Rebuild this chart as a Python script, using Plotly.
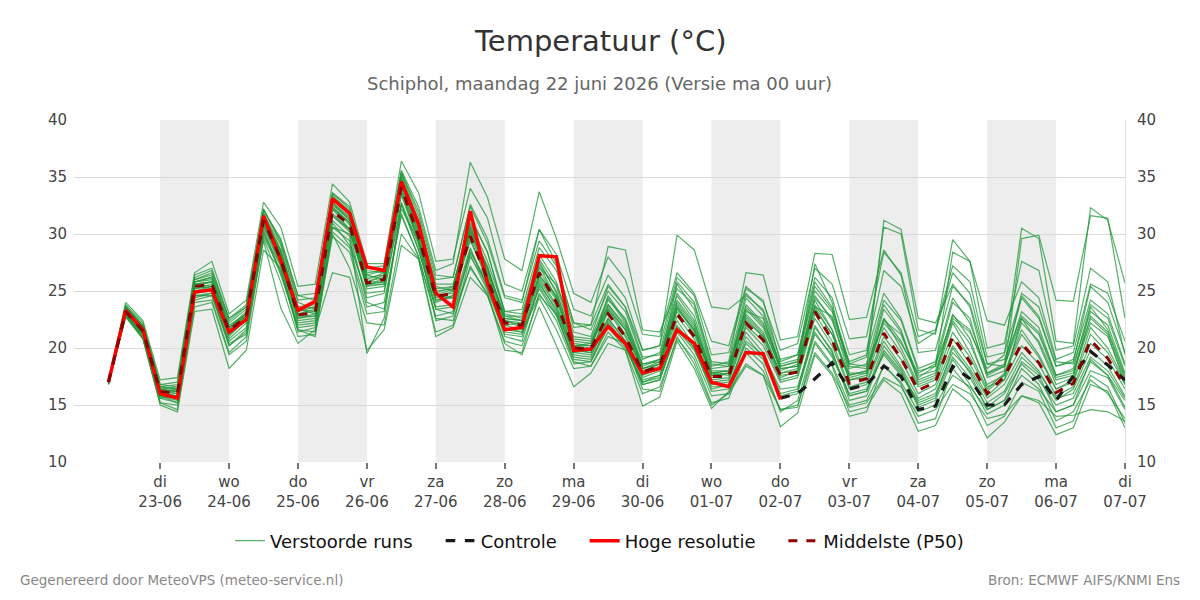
import plotly.graph_objects as go
import pandas as pd

# ---- time axis: 6-hourly steps from 22-06 06:00 UTC ----
times = pd.date_range("2026-06-22 06:00", periods=60, freq="6h")

tick_dates = pd.date_range("2026-06-23", "2026-07-07", freq="D")
tick_days = ["di", "wo", "do", "vr", "za", "zo", "ma", "di", "wo", "do", "vr", "za", "zo", "ma", "di"]
shaded_days = ["2026-06-23", "2026-06-25", "2026-06-27", "2026-06-29", "2026-07-01", "2026-07-03", "2026-07-05"]

# ---- perturbed ensemble members (°C) ----
m01 = [17.0, 23.5, 21.8, 16.4, 16.2, 25.8, 26.0, 21.8, 23.2, 31.6, 28.4, 23.4, 23.6, 32.8, 31.5, 26.2, 26.4, 34.8, 30.6, 25.0, 25.2, 30.8, 27.0, 22.6, 22.4, 27.4, 25.0, 20.4, 20.2, 23.8, 21.8, 18.2, 18.8, 24.0, 22.0, 17.8, 17.6, 23.0, 21.4, 17.8, 18.2, 24.2, 21.6, 17.2, 17.6, 22.6, 20.0, 16.8, 17.4, 22.2, 19.6, 16.4, 17.8, 21.6, 19.4, 16.4, 17.2, 21.8, 20.0, 17.0]
m02 = [16.9, 22.9, 21.0, 15.6, 15.2, 24.6, 24.8, 20.2, 21.6, 30.4, 26.6, 21.8, 22.0, 30.6, 29.4, 24.4, 24.8, 32.6, 28.6, 23.4, 23.6, 28.2, 25.0, 21.2, 21.0, 25.2, 22.8, 19.0, 18.8, 21.8, 20.0, 17.0, 17.4, 21.6, 19.8, 16.6, 16.6, 20.6, 19.4, 16.4, 16.6, 21.4, 19.2, 15.8, 16.2, 19.6, 17.8, 15.2, 15.8, 19.2, 17.4, 14.8, 16.0, 18.6, 17.2, 15.0, 15.6, 18.8, 17.6, 15.4]
m03 = [17.1, 23.8, 22.2, 16.8, 16.6, 26.2, 26.8, 22.4, 23.6, 32.2, 29.2, 24.2, 24.4, 33.6, 32.2, 27.0, 27.2, 35.6, 32.4, 26.8, 27.4, 36.3, 33.2, 27.8, 26.8, 33.7, 29.6, 24.8, 24.0, 28.0, 26.0, 21.2, 21.0, 26.6, 24.8, 20.6, 20.2, 25.4, 24.0, 19.8, 20.4, 27.0, 25.6, 20.8, 21.0, 28.4, 26.6, 21.0, 21.6, 27.2, 25.8, 19.2, 19.6, 24.6, 22.8, 18.4, 18.8, 25.4, 24.0, 19.6]
m04 = [17.0, 23.4, 21.6, 16.0, 15.8, 25.2, 25.4, 21.2, 22.4, 30.8, 27.4, 22.6, 22.8, 31.6, 30.2, 25.4, 25.6, 33.6, 29.4, 24.2, 24.4, 30.2, 27.2, 22.4, 22.2, 27.0, 25.6, 21.4, 21.0, 25.4, 23.6, 19.8, 20.2, 29.9, 28.6, 23.6, 23.4, 24.6, 23.4, 19.0, 19.4, 26.2, 24.4, 19.4, 19.8, 26.8, 25.4, 20.4, 21.4, 26.6, 24.8, 18.6, 18.4, 24.8, 23.6, 18.8, 18.6, 23.2, 22.0, 17.8]
m05 = [17.0, 23.6, 22.0, 16.6, 16.8, 26.0, 26.4, 22.0, 23.0, 31.8, 29.0, 24.0, 23.4, 33.2, 31.8, 26.4, 26.0, 35.2, 31.2, 25.4, 25.0, 31.4, 28.4, 23.2, 23.4, 28.8, 26.8, 21.8, 22.0, 28.9, 28.6, 21.6, 21.4, 25.2, 23.8, 18.6, 18.4, 23.8, 22.2, 18.6, 19.0, 25.0, 23.2, 18.4, 18.2, 31.2, 30.4, 22.6, 22.2, 25.6, 23.6, 17.8, 18.4, 23.2, 21.8, 17.6, 18.0, 22.6, 21.2, 16.8]
m06 = [16.8, 22.8, 20.8, 15.2, 14.6, 23.6, 24.0, 19.4, 20.6, 29.6, 25.8, 21.0, 21.2, 29.8, 28.4, 23.0, 23.2, 31.8, 28.0, 22.6, 22.4, 27.2, 24.6, 20.6, 20.2, 24.4, 21.6, 18.2, 18.4, 21.4, 19.8, 16.0, 16.6, 20.8, 19.0, 15.2, 15.6, 19.6, 18.0, 14.6, 14.8, 20.4, 18.4, 14.4, 14.8, 17.2, 16.0, 12.7, 13.2, 16.4, 15.2, 12.1, 13.5, 15.8, 15.2, 12.4, 13.0, 16.8, 16.2, 13.0]
m07 = [17.0, 23.0, 21.2, 15.8, 15.4, 24.2, 24.6, 20.2, 21.4, 29.4, 23.5, 20.4, 21.6, 26.6, 26.2, 19.8, 21.6, 29.0, 27.8, 21.4, 22.0, 28.0, 25.6, 21.0, 20.6, 25.6, 23.4, 19.4, 19.2, 22.6, 20.6, 17.2, 17.6, 22.4, 20.2, 16.8, 17.0, 21.4, 19.6, 16.0, 16.4, 22.0, 19.6, 15.8, 16.2, 20.2, 18.2, 15.0, 15.6, 20.0, 17.8, 14.6, 15.4, 18.8, 17.6, 14.4, 15.0, 18.0, 17.4, 14.6]
m08 = [17.0, 23.3, 21.6, 16.2, 16.4, 25.6, 25.8, 21.6, 23.0, 31.4, 28.0, 23.0, 23.4, 32.4, 31.0, 25.8, 26.4, 34.4, 30.0, 24.8, 25.4, 31.6, 28.4, 23.0, 22.6, 27.6, 24.8, 20.6, 20.4, 24.2, 22.6, 18.6, 19.0, 24.6, 22.4, 17.8, 18.0, 24.4, 22.8, 18.0, 18.6, 27.4, 24.0, 17.8, 17.8, 23.4, 21.4, 17.0, 17.6, 23.0, 20.8, 16.6, 17.2, 22.6, 20.4, 16.8, 17.4, 23.6, 21.6, 17.6]
m09 = [16.9, 23.0, 21.2, 15.6, 15.8, 24.8, 25.0, 20.8, 22.2, 30.6, 27.2, 22.2, 22.4, 31.2, 29.8, 19.5, 22.6, 32.6, 28.6, 23.4, 23.0, 27.0, 24.8, 19.8, 19.6, 24.8, 22.4, 18.6, 18.8, 22.2, 20.2, 16.8, 17.2, 21.8, 20.0, 16.2, 16.4, 21.0, 19.2, 15.8, 16.2, 21.2, 19.4, 16.0, 16.4, 19.4, 17.6, 15.4, 16.0, 19.6, 18.0, 15.2, 16.2, 19.2, 17.8, 15.6, 16.0, 19.2, 18.0, 15.6]
m10 = [17.0, 23.4, 21.8, 16.2, 16.0, 25.2, 25.6, 21.4, 22.6, 31.0, 27.6, 23.2, 23.6, 32.2, 30.4, 25.6, 25.8, 34.0, 29.6, 24.4, 25.0, 30.4, 26.4, 22.4, 21.8, 26.2, 23.8, 19.8, 19.6, 23.4, 21.2, 18.0, 18.4, 23.4, 21.6, 17.4, 17.8, 22.6, 21.0, 17.4, 18.0, 23.6, 21.2, 17.6, 18.0, 22.2, 20.4, 17.8, 18.6, 22.6, 21.4, 18.2, 19.4, 30.5, 29.6, 20.6, 20.4, 32.3, 31.2, 25.7]
m11 = [17.0, 23.6, 21.9, 16.6, 16.4, 25.8, 26.2, 22.2, 23.4, 31.8, 28.6, 23.6, 23.8, 32.6, 31.4, 26.4, 26.8, 35.0, 31.0, 25.6, 25.6, 30.6, 27.0, 22.8, 22.8, 27.8, 25.4, 20.8, 20.6, 23.8, 22.0, 18.4, 19.0, 24.2, 22.2, 18.0, 18.0, 23.4, 21.8, 18.2, 18.4, 24.6, 22.4, 18.2, 18.6, 24.2, 22.4, 18.0, 18.4, 24.0, 22.6, 17.4, 18.0, 29.6, 29.9, 24.2, 24.1, 31.6, 31.4, 22.6]
m12 = [17.1, 23.7, 22.0, 16.8, 17.0, 26.4, 27.0, 22.6, 23.8, 32.0, 29.6, 24.6, 24.8, 33.4, 32.0, 26.8, 26.6, 35.4, 32.0, 26.4, 26.2, 32.6, 29.6, 24.6, 24.2, 29.4, 27.2, 22.2, 21.6, 25.0, 23.2, 19.0, 19.6, 25.8, 24.0, 18.8, 18.6, 24.8, 23.2, 18.4, 18.8, 25.8, 23.6, 18.6, 19.2, 30.6, 30.0, 21.6, 21.2, 29.5, 27.6, 20.0, 20.4, 27.6, 26.8, 19.8, 20.2, 27.0, 25.8, 19.4]
m13 = [17.0, 23.2, 21.4, 16.0, 15.8, 25.4, 25.2, 21.0, 22.6, 31.0, 27.8, 22.4, 22.6, 31.6, 30.4, 25.2, 25.4, 33.4, 29.2, 24.0, 24.6, 29.4, 26.2, 22.0, 22.2, 26.4, 24.6, 20.2, 20.0, 24.6, 22.4, 18.2, 18.6, 25.6, 23.4, 18.4, 18.8, 26.6, 26.4, 20.7, 21.0, 28.3, 28.2, 22.5, 22.7, 28.6, 26.4, 19.6, 19.8, 25.4, 23.8, 18.6, 19.0, 22.8, 21.4, 17.6, 18.2, 23.8, 22.6, 18.4]
m14 = [16.9, 22.7, 20.8, 15.2, 15.0, 24.0, 24.2, 19.6, 21.0, 29.8, 26.8, 21.4, 21.8, 30.2, 28.8, 23.6, 24.0, 31.6, 28.0, 22.8, 23.2, 28.6, 25.4, 21.4, 21.2, 25.4, 23.0, 19.2, 19.0, 22.0, 20.4, 16.8, 17.2, 21.4, 19.4, 15.8, 16.0, 18.4, 17.6, 14.6, 15.0, 19.6, 17.8, 14.8, 15.2, 17.4, 16.6, 14.0, 14.6, 16.8, 16.0, 13.8, 14.2, 15.8, 15.4, 14.0, 14.1, 14.6, 14.4, 13.6]
m15 = [17.0, 23.1, 21.4, 16.2, 16.0, 25.0, 25.4, 21.4, 22.8, 31.2, 28.0, 22.8, 22.8, 32.2, 31.0, 25.6, 25.6, 34.6, 30.2, 24.6, 24.4, 30.0, 26.0, 22.0, 21.6, 26.4, 24.2, 19.8, 19.6, 23.2, 21.0, 17.6, 18.2, 23.2, 21.2, 17.2, 17.4, 22.0, 20.6, 17.2, 17.6, 23.0, 20.6, 16.6, 17.0, 21.0, 19.0, 16.0, 16.8, 20.8, 18.6, 15.8, 17.2, 20.2, 18.6, 15.8, 16.6, 20.4, 19.0, 16.4]
m16 = [17.1, 24.0, 22.4, 17.2, 17.4, 26.6, 27.6, 23.0, 24.2, 32.8, 30.6, 25.4, 25.6, 34.4, 32.8, 27.4, 27.4, 36.4, 33.6, 27.6, 27.8, 34.0, 31.4, 25.6, 25.0, 30.4, 28.2, 23.4, 22.8, 26.4, 24.4, 19.8, 20.2, 26.2, 24.6, 19.4, 19.6, 25.2, 24.2, 18.8, 19.4, 25.4, 23.4, 18.8, 19.4, 24.8, 22.6, 18.2, 18.8, 24.4, 22.2, 17.8, 18.6, 24.4, 22.6, 18.4, 19.0, 24.2, 23.0, 18.6]
m17 = [16.8, 22.8, 20.9, 15.0, 14.4, 23.2, 23.4, 18.2, 19.8, 28.6, 27.0, 21.6, 21.4, 30.0, 27.0, 22.2, 22.0, 30.0, 27.8, 21.0, 21.8, 26.2, 24.6, 20.4, 19.4, 23.6, 20.2, 16.6, 17.8, 20.4, 19.8, 14.9, 15.7, 20.6, 18.2, 14.7, 16.2, 18.6, 17.6, 13.1, 14.3, 19.4, 17.6, 14.0, 14.4, 18.6, 16.8, 13.4, 13.8, 18.2, 16.4, 13.2, 14.0, 17.0, 16.2, 13.0, 13.6, 17.6, 16.6, 13.4]
m18 = [17.0, 23.3, 21.6, 16.0, 15.8, 25.6, 25.4, 21.2, 22.4, 30.8, 27.6, 22.6, 23.0, 31.8, 30.4, 25.4, 26.2, 33.8, 29.4, 24.2, 24.6, 29.6, 25.8, 22.4, 22.0, 26.0, 23.6, 19.6, 19.8, 22.6, 20.6, 17.4, 18.0, 22.8, 20.8, 17.0, 17.2, 21.8, 20.2, 17.0, 17.4, 22.6, 20.2, 16.4, 16.8, 20.6, 18.4, 15.6, 16.4, 20.2, 18.2, 15.6, 16.8, 19.6, 18.0, 15.4, 16.4, 19.8, 18.4, 15.8]
m19 = [17.0, 23.5, 21.7, 16.4, 16.6, 25.8, 26.2, 21.8, 22.8, 31.4, 28.4, 23.4, 23.0, 32.6, 31.2, 26.0, 26.6, 34.8, 30.8, 25.2, 25.4, 31.0, 27.6, 23.2, 23.0, 28.2, 25.8, 21.0, 20.8, 24.4, 22.2, 18.6, 18.8, 23.8, 21.8, 17.8, 18.0, 23.6, 22.0, 18.2, 18.4, 24.4, 22.6, 17.6, 18.0, 23.8, 21.6, 17.2, 17.8, 22.4, 20.4, 16.8, 17.6, 22.2, 20.6, 17.2, 17.6, 22.8, 21.4, 17.4]
m20 = [17.0, 23.2, 21.5, 16.4, 16.2, 25.4, 25.8, 21.6, 22.8, 31.2, 28.2, 23.0, 23.2, 32.4, 30.8, 25.8, 25.8, 34.2, 29.8, 24.6, 25.2, 30.2, 26.6, 22.6, 22.4, 27.2, 24.4, 20.2, 20.2, 23.4, 21.6, 18.0, 18.6, 23.6, 21.4, 17.6, 17.8, 22.8, 21.2, 17.8, 18.0, 23.8, 21.6, 17.4, 17.8, 22.6, 20.6, 17.4, 18.4, 28.4, 27.6, 22.4, 22.0, 25.8, 24.4, 19.0, 19.6, 25.6, 24.8, 20.6]
m21 = [16.9, 22.9, 21.1, 15.8, 15.6, 24.6, 24.6, 20.6, 21.8, 30.2, 26.4, 22.0, 22.2, 31.0, 29.0, 24.8, 25.0, 32.8, 29.0, 23.6, 23.8, 28.8, 25.2, 21.6, 21.4, 25.8, 23.2, 19.6, 19.4, 22.4, 20.2, 17.0, 17.6, 22.0, 20.0, 16.4, 16.8, 20.4, 19.0, 15.6, 16.0, 21.8, 19.8, 15.4, 15.8, 19.8, 18.0, 14.8, 15.4, 19.0, 16.8, 14.2, 15.0, 18.2, 16.8, 13.6, 14.4, 17.2, 16.0, 13.8]
m22 = [17.0, 23.4, 21.6, 16.2, 16.2, 25.6, 25.8, 21.8, 23.0, 31.6, 28.6, 23.4, 23.2, 32.8, 31.2, 25.8, 26.2, 34.6, 30.4, 24.6, 24.8, 30.6, 26.8, 22.8, 22.4, 26.8, 24.4, 20.2, 20.4, 23.6, 21.6, 18.2, 18.6, 23.6, 21.6, 17.6, 17.8, 22.4, 21.0, 17.6, 17.8, 23.4, 21.2, 17.2, 17.4, 21.8, 19.6, 16.6, 17.2, 21.4, 19.2, 16.2, 17.6, 21.2, 19.2, 16.4, 17.0, 21.2, 19.6, 16.8]
m23 = [17.0, 23.0, 21.3, 15.8, 15.2, 24.4, 24.8, 20.4, 21.2, 30.0, 27.2, 21.6, 21.0, 30.6, 30.0, 24.0, 23.4, 32.2, 29.4, 22.4, 22.8, 28.4, 25.8, 21.8, 21.4, 24.6, 23.0, 18.8, 18.4, 21.0, 20.4, 16.4, 16.2, 21.0, 18.6, 15.0, 16.0, 20.0, 18.6, 14.4, 15.4, 20.6, 18.6, 15.0, 15.4, 18.4, 17.0, 14.4, 15.0, 17.6, 16.6, 14.6, 15.4, 17.6, 16.4, 14.4, 15.0, 19.0, 17.6, 14.8]
m24 = [17.0, 23.6, 21.9, 16.6, 16.4, 26.0, 26.6, 22.6, 23.6, 32.2, 29.4, 24.6, 24.2, 33.6, 32.4, 26.6, 26.8, 35.4, 31.6, 26.0, 26.2, 32.4, 29.2, 24.4, 24.0, 30.4, 27.4, 22.2, 22.0, 25.6, 23.6, 19.2, 19.4, 24.8, 22.8, 18.2, 18.4, 23.2, 22.6, 18.4, 18.8, 23.6, 22.8, 18.6, 18.4, 22.4, 21.2, 17.6, 18.0, 22.8, 21.6, 17.6, 18.4, 22.6, 21.2, 17.4, 17.8, 22.2, 21.0, 17.2]

members = [m01, m02, m03, m04, m05, m06, m07, m08, m09, m10, m11, m12,
           m13, m14, m15, m16, m17, m18, m19, m20, m21, m22, m23, m24]

# high-resolution run (available up to 02-07 00 UTC)
hires_vals = [17.0, 23.3, 21.6, 16.0, 15.6, 24.9, 25.1, 21.4, 22.5, 31.6,
              27.7, 23.3, 24.1, 33.1, 31.8, 27.1, 26.8, 34.6, 30.9, 24.8,
              23.6, 32.0, 25.7, 21.6, 21.8, 28.1, 28.0, 19.8, 19.9, 21.9,
              20.4, 17.8, 18.2, 21.6, 20.4, 17.0, 16.6, 19.6, 19.5, 15.5]
hires = hires_vals + [None] * (len(times) - len(hires_vals))

# control run (visible from 02-07 00 UTC onwards)
control_vals = [15.6, 16.0, 17.3, 18.7, 16.4, 16.8, 18.4, 17.5, 14.6, 14.9, 18.4,
                17.3, 15.0, 15.0, 16.8, 17.5, 15.4, 17.5, 19.7, 18.5, 17.2]
control = [None] * (len(times) - len(control_vals)) + control_vals

# ensemble median (P50)
median = [17.0, 23.2, 21.5, 16.2, 16.0, 25.4, 25.6, 21.5, 22.8, 31.2,
          27.8, 22.9, 23.1, 32.0, 30.8, 25.7, 26.0, 34.1, 29.8, 24.5,
          24.8, 29.8, 26.0, 22.2, 22.0, 26.6, 24.0, 20.0, 19.9, 23.0,
          21.0, 17.9, 18.4, 23.0, 21.0, 17.5, 17.5, 22.2, 20.7, 17.6,
          17.9, 23.2, 20.7, 16.9, 17.3, 21.3, 19.1, 16.3, 17.0, 21.0,
          18.8, 16.0, 17.5, 20.4, 18.7, 16.1, 16.9, 20.7, 19.1, 16.6]

FONT = "DejaVu Sans, Verdana, sans-serif"
PAD = "\u00a0" * 4  # extra spacing after each legend label

fig = go.Figure()

for k, m in enumerate(members):
    fig.add_trace(go.Scatter(
        x=times, y=m, mode="lines",
        line=dict(color="rgba(30,150,55,0.75)", width=1.2),
        name="Verstoorde runs" + PAD, legendgroup="runs", showlegend=(k == 0),
        hoverinfo="skip"))

fig.add_trace(go.Scatter(x=times, y=control, mode="lines", name="Controle" + PAD,
                         line=dict(color="#1a1a1a", width=3.2, dash="dash")))
fig.add_trace(go.Scatter(x=times, y=hires, mode="lines", name="Hoge resolutie" + PAD,
                         line=dict(color="#ff0000", width=3.5)))
fig.add_trace(go.Scatter(x=times, y=median, mode="lines", name="Middelste (P50)",
                         yaxis="y2",
                         line=dict(color="#8b0000", width=3, dash="dash")))

shapes = []
for d in shaded_days:
    d0 = pd.Timestamp(d)
    shapes.append(dict(type="rect", xref="x", yref="paper",
                       x0=d0, x1=d0 + pd.Timedelta(days=1), y0=0, y1=1,
                       fillcolor="#ededed", line=dict(width=0), layer="below"))

ticktext = [f"{dn}<br>{dt.strftime('%d-%m')}" for dn, dt in zip(tick_days, tick_dates)]

fig.update_layout(
    width=1200, height=600,
    margin=dict(l=74, r=75, t=120, b=138),
    paper_bgcolor="white", plot_bgcolor="white",
    font=dict(family=FONT, color="#444"),
    shapes=shapes,
    showlegend=True,
    legend=dict(orientation="h", x=0.5, xanchor="center", y=-0.231, yanchor="middle",
                font=dict(size=18, color="#111", family=FONT), bgcolor="rgba(0,0,0,0)",
                itemwidth=30),
    xaxis=dict(type="date", range=["2026-06-21 18:00", "2026-07-07 00:00"],
               tickvals=list(tick_dates), ticktext=ticktext,
               ticks="outside", ticklen=6, tickwidth=2, tickcolor="#777",
               tickfont=dict(size=15, color="#444", family=FONT),
               showgrid=False, zeroline=False, showline=False),
    yaxis=dict(range=[10, 40], dtick=5, tick0=10, showgrid=True, gridcolor="#dadada",
               gridwidth=1, zeroline=False, tickfont=dict(size=15, color="#444", family=FONT),
               ticks="", showline=False, ticklabelstandoff=6),
    yaxis2=dict(range=[10, 40], dtick=5, tick0=10, overlaying="y", side="right",
                showgrid=False, zeroline=False, tickfont=dict(size=15, color="#444", family=FONT),
                showline=True, linecolor="#e3e3e3", linewidth=1, ticklabelstandoff=8),
    annotations=[
        dict(text="Temperatuur (°C)", x=0.5, y=1.23, xref="paper", yref="paper",
             showarrow=False, font=dict(size=29, color="#333", family=FONT),
             xanchor="center", yanchor="middle"),
        dict(text="Schiphol, maandag 22 juni 2026 (Versie ma 00 uur)", x=0.5, y=1.108,
             xref="paper", yref="paper", showarrow=False,
             font=dict(size=18, color="#666", family=FONT),
             xanchor="center", yanchor="middle"),
        dict(text="Gegenereerd door MeteoVPS (meteo-service.nl)", x=-0.0533, y=-0.345,
             xref="paper", yref="paper", showarrow=False, xanchor="left", yanchor="middle",
             font=dict(size=13.5, color="#888", family=FONT)),
        dict(text="Bron: ECMWF AIFS/KNMI Ens", x=1.054, y=-0.345,
             xref="paper", yref="paper", showarrow=False, xanchor="right", yanchor="middle",
             font=dict(size=13.5, color="#888", family=FONT)),
    ],
)

fig.write_html("out.html")
